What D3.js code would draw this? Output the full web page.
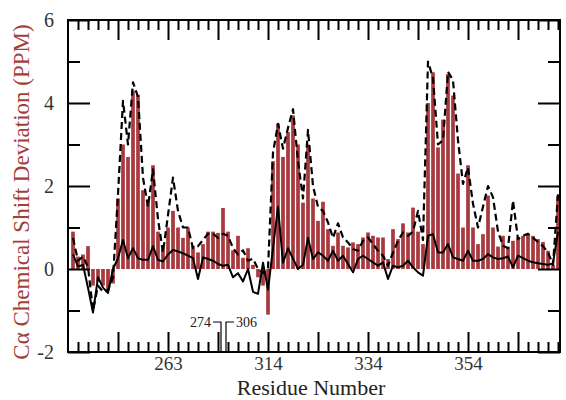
<!DOCTYPE html>
<html><head><meta charset="utf-8">
<script src="https://cdn.jsdelivr.net/npm/d3@7"></script>
<style>
html,body{margin:0;padding:0;background:#fff;}
svg{display:block;}
svg text{font-family:"Liberation Serif","Tinos","Times New Roman","DejaVu Serif","Noto Serif",serif !important;}
</style></head>
<body><svg id="chart" width="566" height="400"></svg>
<script>
// Residue numbers (axis is broken between 274 and 306)
const residues = [
  244,245,246,247,248,249,250,251,252,253,254,255,256,257,258,259,260,261,262,263,264,265,266,267,268,269,270,271,272,273,274,
  306,307,308,309,310,311,312,313,314,315,316,317,318,319,320,321,322,323,324,325,326,327,328,329,330,331,332,333,334,335,336,337,338,339,340,
  341,342,343,344,345,346,347,348,349,350,351,352,353,354,355,356,357,358,359,360,361,362,363,364,365,366,367,368,369,370,371,372
];
// Bars: measured C-alpha chemical shift deviation
const barValues = [
  0.9,0.3,0.35,0.55,-0.4,-0.3,-0.4,-0.5,-0.35,1.7,3.0,2.7,4.3,4.2,1.9,1.6,2.5,0.9,0.5,1.0,1.4,1.0,0.75,1.0,0.56,0.4,0.6,0.9,0.9,0.87,1.47,
  0.9,0.45,0.8,0.27,0.5,0.1,-0.2,-0.4,-1.1,2.6,3.5,2.7,3.3,3.7,3.0,1.6,3.0,1.7,1.16,1.62,0.96,0.56,0.88,0.56,0.52,0.64,0.6,0.76,0.88,0.8,0.76,0.76,0.24,0.96,0.72,
  1.1,0.88,1.48,0.9,0.6,4.0,4.74,2.93,3.6,4.7,4.18,2.3,1.0,2.5,1.0,0.6,0.84,1.77,1.0,0.54,0.8,0.54,0.68,0.76,0.8,0.84,0.8,0.72,0.65,0.44,0.1,1.75
];
// Dashed line series
const dashedValues = [
  0.75,0.2,0.3,0.05,-1.0,-0.4,-0.55,-0.5,-0.2,1.8,4.05,3.0,4.5,4.15,2.2,1.5,2.4,1.2,0.4,1.3,2.2,1.4,1.0,1.0,0.5,0.55,0.7,0.85,0.85,0.75,0.85,
  0.8,0.5,0.35,0.45,0.2,0.25,0.0,-0.1,0.0,2.8,3.5,2.9,3.4,3.85,2.6,1.7,3.35,2.0,1.5,1.4,1.12,0.75,1.1,0.76,0.64,0.48,0.44,0.68,0.76,0.6,0.44,0.32,0.08,0.4,0.68,
  0.88,0.8,0.9,1.4,0.7,5.0,4.6,3.0,3.1,4.75,4.55,3.1,2.05,2.45,1.57,1.0,1.5,2.0,1.73,0.9,0.56,0.5,1.65,0.72,0.8,0.85,0.75,0.65,0.55,0.4,0.1,1.8
];
// Solid line series
const solidValues = [
  0.35,0.06,0.1,-0.45,-1.05,-0.2,-0.45,-0.58,0.0,0.26,0.7,0.26,0.5,0.26,0.22,0.22,0.55,0.22,0.18,0.35,0.46,0.42,0.38,0.32,0.26,-0.24,0.28,0.24,0.2,0.12,0.08,
  0.1,-0.2,-0.1,-0.3,0.0,-0.55,-0.6,0.15,-0.5,0.5,1.5,0.15,0.5,0.25,0.0,0.1,0.75,0.24,0.4,0.32,0.2,0.44,0.2,0.32,0.12,-0.08,0.24,0.32,0.24,0.16,0.08,0.16,-0.24,0.08,0.04,
  0.08,0.2,0.04,-0.08,-0.16,0.8,0.84,0.4,0.4,0.6,0.28,0.24,0.2,0.44,0.2,0.2,0.24,0.36,0.28,0.24,0.26,0.3,0.04,0.32,0.26,0.2,0.16,0.14,0.12,0.1,0.14,0.9
];
const xMinorTicks = [245,247,249,251,255,257,259,261,265,267,269,271,306,308,310,312,316,318,320,322,326,328,330,332,336,338,340,342,346,348,350,352,356,358,360,362,366,368,370,372];
const xMajorTicks = [253,263,273,314,324,334,344,354,364];
const xTickLabels = [263,314,334,354];
const yMajorTicks = [-2,0,2,4,6];
const yMinorTicks = [-1,1,3,5];
const breakLabels = [274,306];

const svg = d3.select("#chart");
const L = 68, R = 560, T = 20, B = 352;
const idx = r => residues.indexOf(r);
const x = d3.scaleLinear().domain([-1, residues.length - 0.6]).range([L, R]);
const xr = r => x(idx(r));
const y = d3.scaleLinear().domain([-2, 6]).range([B, T]);

const barColor = "#a83a3f";
const bw = (x(1) - x(0)) * 0.74;

// bars
svg.append("g").selectAll("rect").data(residues).join("rect")
  .attr("x", (r,i) => x(i) - bw/2)
  .attr("width", bw)
  .attr("y", (r,i) => y(Math.max(0, barValues[i])))
  .attr("height", (r,i) => Math.abs(y(barValues[i]) - y(0)))
  .attr("fill", barColor);

// lines
const line = vals => d3.line().x((d,i) => x(i)).y((d,i) => y(vals[i]))(residues);
svg.append("path").attr("d", line(dashedValues)).attr("fill","none")
  .attr("stroke","#000").attr("stroke-width",2.2).attr("stroke-dasharray","7,4").attr("stroke-linejoin","round");
svg.append("path").attr("d", line(solidValues)).attr("fill","none")
  .attr("stroke","#000").attr("stroke-width",2).attr("stroke-linejoin","round");

// axes
function styleAxis(g){ g.attr("font-family",null); g.select(".domain").remove(); g.selectAll(".tick line").attr("stroke","#000").attr("stroke-width",2); }
const xFmt = i => xTickLabels.includes(residues[i]) ? String(residues[i]) : "";
svg.append("g").attr("transform",`translate(0,${B})`)
  .call(d3.axisBottom(x).tickValues(xMinorTicks.map(idx)).tickSize(-10).tickFormat("")).call(styleAxis);
const xb = svg.append("g").attr("transform",`translate(0,${B})`)
  .call(d3.axisBottom(x).tickValues(xMajorTicks.map(idx)).tickSize(-20).tickPadding(5).tickFormat(xFmt)).call(styleAxis);
xb.attr("font-size",19);
xb.selectAll("text").attr("fill","#333");
svg.append("g").attr("transform",`translate(0,${T})`)
  .call(d3.axisTop(x).tickValues(xMinorTicks.map(idx)).tickSize(-10).tickFormat("")).call(styleAxis);
svg.append("g").attr("transform",`translate(0,${T})`)
  .call(d3.axisTop(x).tickValues(xMajorTicks.map(idx)).tickSize(-20).tickFormat("")).call(styleAxis);

svg.append("g").attr("transform",`translate(${L},0)`)
  .call(d3.axisLeft(y).tickValues(yMinorTicks).tickSize(-12).tickFormat("")).call(styleAxis);
const yl = svg.append("g").attr("transform",`translate(${L},0)`)
  .call(d3.axisLeft(y).tickValues(yMajorTicks).tickSize(-22).tickPadding(14).tickFormat(d => String(d))).call(styleAxis);
yl.attr("font-size",20);
yl.selectAll("text").attr("fill","#333");
svg.append("g").attr("transform",`translate(${R},0)`)
  .call(d3.axisRight(y).tickValues(yMinorTicks).tickSize(-12).tickFormat("")).call(styleAxis);
svg.append("g").attr("transform",`translate(${R},0)`)
  .call(d3.axisRight(y).tickValues(yMajorTicks).tickSize(-22).tickFormat("")).call(styleAxis);

// frame
svg.append("rect").attr("x",L).attr("y",T).attr("width",R-L).attr("height",B-T)
  .attr("fill","none").attr("stroke","#000").attr("stroke-width",2);

// axis break markers
const bx1 = xr(breakLabels[0]) - 2, bx2 = xr(breakLabels[1]) - 2, by = B - 30;
svg.append("path").attr("d",`M${bx1-8},${by}H${bx1}V${B}`).attr("fill","none").attr("stroke","#000").attr("stroke-width",1.2);
svg.append("path").attr("d",`M${bx2},${B}V${by}H${bx2+8}`).attr("fill","none").attr("stroke","#000").attr("stroke-width",1.2);
svg.append("text").attr("x",bx1-10).attr("y",by+5).attr("text-anchor","end").attr("font-size",14).attr("fill","#222").text(breakLabels[0]);
svg.append("text").attr("x",bx2+10).attr("y",by+5).attr("text-anchor","start").attr("font-size",14).attr("fill","#222").text(breakLabels[1]);

// titles
svg.append("text").attr("x",311).attr("y",395).attr("text-anchor","middle").attr("font-size",22).attr("fill","#222").text("Residue Number");
svg.append("text").attr("transform",`translate(29,${(T+B)/2+6}) rotate(-90)`).attr("text-anchor","middle")
  .attr("font-size",23).attr("fill","#a33d3a").text("Cα Chemical Shift Deviation (PPM)");
</script></body></html>
